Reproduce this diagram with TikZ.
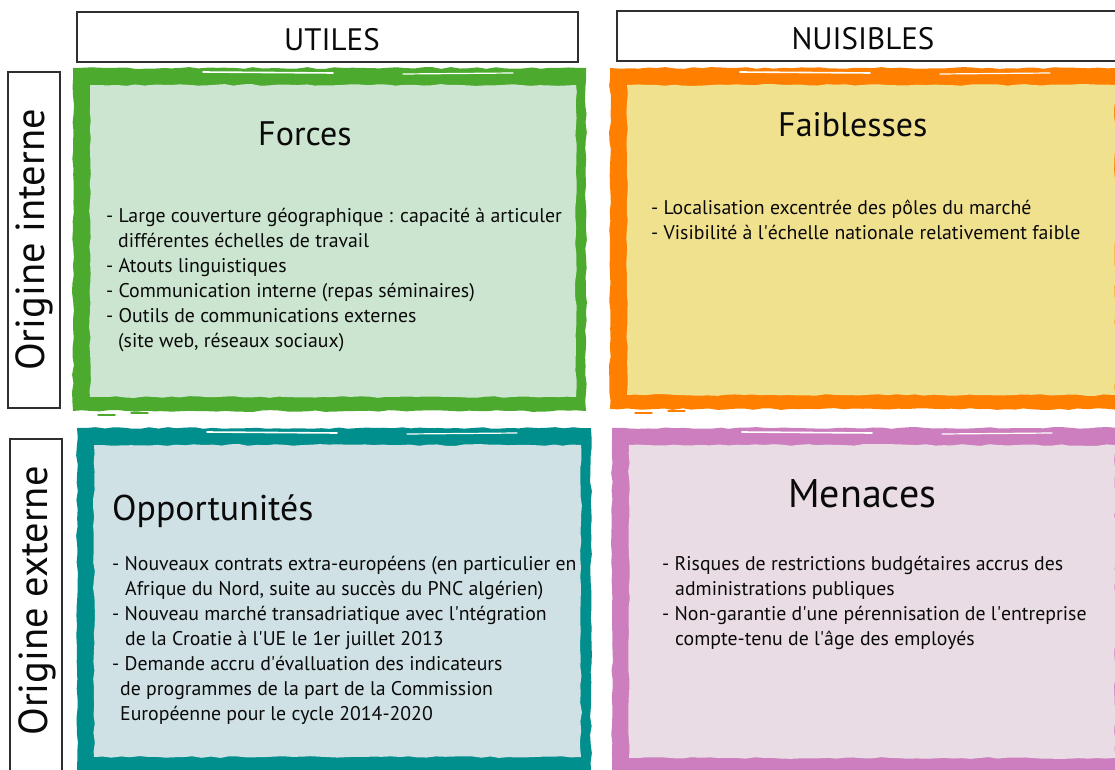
\documentclass[tikz,border=0pt]{standalone}
\usepackage{fontspec}
\setmainfont{PT Sans}
\usetikzlibrary{decorations.pathmorphing}
\definecolor{gborder}{RGB}{76,170,46}
\definecolor{gfill}{RGB}{204,229,208}
\definecolor{oborder}{RGB}{255,128,0}
\definecolor{ofill}{RGB}{240,225,143}
\definecolor{tborder}{RGB}{0,143,140}
\definecolor{tfill}{RGB}{208,225,230}
\definecolor{pborder}{RGB}{204,126,190}
\definecolor{pfill}{RGB}{234,220,228}
\definecolor{ink}{RGB}{10,10,10}
\newcommand\aq{\textquotesingle}
\tikzset{
  hdr/.style={draw=ink!85, line width=1.3pt, fill=white, text=ink, inner sep=0pt,
    font=\fontsize{31}{33}\selectfont},
  side/.style={hdr, rotate=90, font=\fontsize{40.5}{42}\selectfont},
  ttl/.style={text=ink, anchor=base west, inner sep=0pt},
  body/.style={text=ink, align=left, anchor=north west, inner sep=0pt,
    font=\fontsize{19.8}{25}\selectfont},
  rough/.style={decorate, decoration={random steps, segment length=9pt, amplitude=0.9pt}},
}
\newcommand\brushbox[6]{%
  \fill[#1, rough] (#3,#4) rectangle (#5,#6);
  \fill[#2, rough] ({#3+17},{#4+17}) rectangle ({#5-10},{#6-14});
  \draw[white, line width=1.6pt, line cap=round] ({#3+130},{#4+4}) -- ({#3+260},{#4+5});
  \draw[white, line width=1.2pt, line cap=round] ({#3+330},{#4+6}) -- ({#3+440},{#4+5});
  \draw[#1, line width=1.4pt, line cap=round] ({#3+25},{#6+4}) -- ({#3+42},{#6+4});
  \draw[#1, line width=1.2pt, line cap=round] ({#3+58},{#6+2}) -- ({#3+75},{#6+2});
}
\begin{document}
\begin{tikzpicture}[x=1pt,y=-1pt]
\pgfmathsetseed{7}
\useasboundingbox[fill=white] (0,0) rectangle (1115,770);
% header boxes
\node[hdr, minimum width=501pt, minimum height=50pt] (utiles) at (327.5,37) {};
\node[hdr, minimum width=505pt, minimum height=50pt] (nuisibles) at (869.5,36) {};
\node[text=ink, font=\fontsize{31}{33}\selectfont, inner sep=0pt] (utilestxt) at (332,40) {UTILES};
\node[text=ink, font=\fontsize{31}{33}\selectfont, inner sep=0pt] (nuisiblestxt) at (863,39) {NUISIBLES};
\node[side, minimum width=336pt, minimum height=52pt] (interne) at (34,240) {Origine interne};
\node[side, minimum width=340pt, minimum height=52pt] (externe) at (36,609) {};
\node[text=ink, rotate=90, font=\fontsize{40.5}{42}\selectfont, inner sep=0pt] (externetxt) at (37,601) {Origine externe};
% quadrants
\brushbox{gborder}{gfill}{73}{68}{586}{411}
\brushbox{oborder}{ofill}{610}{68}{1125}{409}
\brushbox{tborder}{tfill}{77}{428}{591}{771}
\brushbox{pborder}{pfill}{612}{428}{1125}{772}
% titles
\node[ttl, font=\fontsize{34}{36}\selectfont] (forces) at (258,146) {Forces};
\node[ttl, font=\fontsize{34}{36}\selectfont] (faiblesses) at (778,137) {Faiblesses};
\node[ttl, font=\fontsize{35.8}{38}\selectfont] (opport) at (112,520) {Opportunités};
\node[ttl, font=\fontsize{40}{42}\selectfont] (menaces) at (788,507) {Menaces};
% bodies
\node[body] (tforces) at (106,208) {- Large couverture géographique : capacité à articuler\\
\hspace*{12pt}différentes échelles de travail\\
- Atouts linguistiques\\
- Communication interne (repas séminaires)\\
- Outils de communications externes\\
\hspace*{12pt}(site web, réseaux sociaux)};
\node[body] (tfaib) at (651,200) {- Localisation excentrée des pôles du marché\\
- Visibilité à l\aq échelle nationale relativement faible};
\node[body] (topp) at (112,556) {- Nouveaux contrats extra-européens (en particulier en\\
\hspace*{13pt}Afrique du Nord, suite au succès du PNC algérien)\\
- Nouveau marché transadriatique avec l\aq ntégration\\
\hspace*{13pt}de la Croatie à l\aq UE le 1er juillet 2013\\
- Demande accru d\aq évalluation des indicateurs\\
\hspace*{8pt}de programmes de la part de la Commission\\
\hspace*{8pt}Européenne pour le cycle 2014-2020};
\node[body] (tmen) at (662,556) {- Risques de restrictions budgétaires accrus des\\
\hspace*{13pt}administrations publiques\\
- Non-garantie d\aq une pérennisation de l\aq entreprise\\
\hspace*{13pt}compte-tenu de l\aq âge des employés};
\end{tikzpicture}
\end{document}
